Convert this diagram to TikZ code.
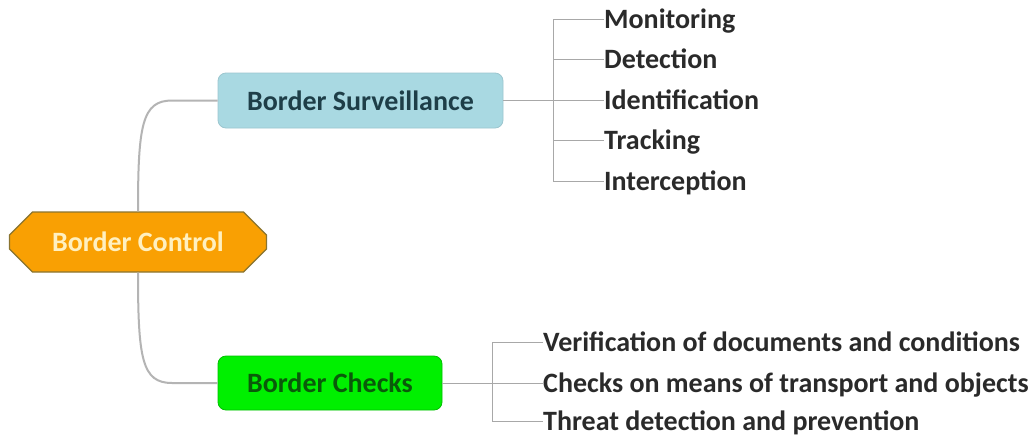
\documentclass[tikz,border=0pt]{standalone}
\usepackage{fontspec}
\setmainfont{Carlito}
\usetikzlibrary{shapes.misc}
\definecolor{stem}{HTML}{B4B4B4}
\definecolor{twig}{HTML}{A8A8A8}
\definecolor{rootfill}{HTML}{F9A003}
\definecolor{rootline}{HTML}{8A7430}
\definecolor{roottext}{HTML}{FFF0C0}
\definecolor{survfill}{HTML}{A9D9E2}
\definecolor{survline}{HTML}{9CC6CF}
\definecolor{survtext}{HTML}{1E3E48}
\definecolor{chkfill}{HTML}{00F000}
\definecolor{chktext}{HTML}{0A5A0A}
\definecolor{leaftext}{HTML}{2A2A2A}
\tikzset{
  x=1pt, y=-1pt,
  bigfont/.style={font=\bfseries\fontsize{28}{32}\selectfont},
  rootbox/.style={chamfered rectangle, chamfered rectangle xsep=14pt, chamfered rectangle ysep=13pt,
    draw=rootline, line width=1.2pt, fill=rootfill, minimum width=257pt, minimum height=60pt,
    inner sep=0pt, text=roottext, bigfont},
  topicbox/.style={rounded corners=8pt, draw=#1, line width=0.8pt, inner sep=0pt, bigfont},
  leaf/.style={anchor=west, inner sep=0pt, text=leaftext, bigfont, text height=18pt, text depth=0pt},
  stemline/.style={draw=stem, line width=2pt},
  twigline/.style={draw=twig, line width=0.9pt},
}
\begin{document}
\begin{tikzpicture}
\useasboundingbox (0,0) rectangle (1035,437);
\fill[white] (0,0) rectangle (1035,437);

% central node
\node[rootbox] (bc) at (138,242) {Border Control};

% main topics
\node[topicbox=survline, fill=survfill, text=survtext, minimum width=285pt, minimum height=55pt] (bs) at (360.5,100.5) {Border Surveillance};
\node[topicbox=chkfill!80!black, fill=chkfill, text=chktext, minimum width=224pt, minimum height=54pt] (ck) at (330,383) {Border Checks};

% curved links from the centre
\draw[stemline] (bc.north) .. controls (138,125) and (142,100.5) .. (172,100.5) -- (bs.west);
\draw[stemline] (bc.south) .. controls (138,359) and (142,383) .. (172,383) -- (ck.west);

% surveillance subtopics (text box = cap height, so west is mid-cap)
\node[leaf] (s1) at (604,19) {Monitoring};
\node[leaf] (s2) at (604,59.5) {Detection};
\node[leaf] (s3) at (604,100.5) {Identification};
\node[leaf] (s4) at (604,140.5) {Tracking};
\node[leaf] (s5) at (604,181) {Interception};
\coordinate (sj) at (553,100.5);
\draw[twigline] (bs.east) -- (sj);
\draw[twigline] (s1.west) -| (sj |- s5.west) -- (s5.west);
\foreach \k in {2,3,4} \draw[twigline] (sj |- s\k.west) -- (s\k.west);

% checks subtopics
\node[leaf] (c1) at (543,342) {Verification of documents and conditions};
\node[leaf] (c2) at (543,383) {Checks on means of transport and objects};
\node[leaf] (c3) at (543,421) {Threat detection and prevention};
\coordinate (cj) at (492,383);
\draw[twigline] (ck.east) -- (cj);
\draw[twigline] (c1.west) -| (cj |- c3.west) -- (c3.west);
\draw[twigline] (cj) -- (c2.west);
\end{tikzpicture}
\end{document}
